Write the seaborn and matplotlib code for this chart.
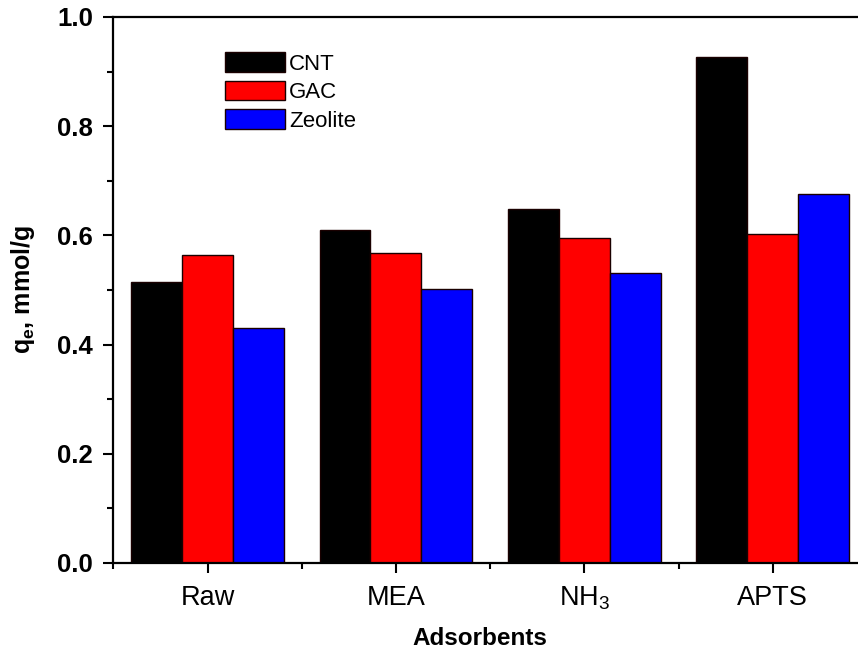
import matplotlib
matplotlib.use("Agg")
import matplotlib.pyplot as plt
from matplotlib.ticker import FixedLocator
import seaborn as sns
import pandas as pd

# Adsorbent treatments and equilibrium uptake per sorbent (mmol/g)
adsorbents = ["Raw", "MEA", "NH$_\\mathregular{3}$", "APTS"]
sorbents = ["CNT", "GAC", "Zeolite"]
cnt = [0.515, 0.610, 0.648, 0.926]
gac = [0.564, 0.568, 0.595, 0.603]
zeolite = [0.430, 0.502, 0.532, 0.675]
colors = ["#000000", "#ff0000", "#0000ff"]

rows = []
for name, vals in zip(sorbents, [cnt, gac, zeolite]):
    for a, v in zip(adsorbents, vals):
        rows.append({"Adsorbents": a, "Sorbent": name, "qe": v})
df = pd.DataFrame(rows)

sns.set_style("ticks")
plt.rcParams["font.family"] = ["Liberation Sans", "DejaVu Sans"]
plt.rcParams["mathtext.fontset"] = "custom"
plt.rcParams["mathtext.rm"] = "Liberation Sans"
plt.rcParams["mathtext.bf"] = "Liberation Sans:bold"
for key in ["text.color", "axes.labelcolor", "xtick.color", "ytick.color",
            "xtick.labelcolor", "ytick.labelcolor", "axes.edgecolor"]:
    plt.rcParams[key] = "black"

fig = plt.figure(figsize=(8.58, 6.54), dpi=100)
ax = fig.add_axes([113.3 / 858, 1 - 563 / 654, 753.6 / 858, 546 / 654])

sns.barplot(data=df, x="Adsorbents", y="qe", hue="Sorbent", order=adsorbents,
            hue_order=sorbents, palette=colors, width=0.81, saturation=1,
            edgecolor="#1a0000", linewidth=1.0, ax=ax, legend=True)

ax.set_xlim(-0.5, 3.5)
ax.set_ylim(0, 1.0)
ax.set_yticks([0.0, 0.2, 0.4, 0.6, 0.8, 1.0])
ax.set_yticklabels(["0.0", "0.2", "0.4", "0.6", "0.8", "1.0"], fontsize=18.5, fontweight="bold")
ax.yaxis.set_minor_locator(FixedLocator([0.1, 0.3, 0.5, 0.7, 0.9]))
ax.xaxis.set_minor_locator(FixedLocator([-0.5, 0.5, 1.5, 2.5]))
ax.set_xticks(range(4))
ax.set_xticklabels(adsorbents, fontsize=19.5)

for sp in ["left", "bottom", "top"]:
    ax.spines[sp].set_linewidth(1.6)
    ax.spines[sp].set_color("black")
ax.spines["right"].set_visible(False)

ax.tick_params(axis="both", which="major", length=7.5, width=1.5, color="black")
ax.tick_params(axis="both", which="minor", length=4, width=1.5, color="black")
ax.tick_params(axis="x", which="major", pad=8)
ax.tick_params(axis="y", which="major", pad=7)

ax.set_xlabel("Adsorbents", fontsize=17.5, fontweight="bold")
ax.xaxis.set_label_coords(0.487, -0.118)
ax.set_ylabel("$\\mathbf{q_e}$, mmol/g", fontsize=18, fontweight="bold")
ax.yaxis.set_label_coords(-0.101, 0.5)

handles, labels = ax.get_legend_handles_labels()
ax.legend(handles, labels, loc="upper left", bbox_to_anchor=(0.148, 0.935),
          frameon=False, fontsize=16, handlelength=2.7, handleheight=0.95,
          labelspacing=0.28, handletextpad=0.2, borderpad=0, borderaxespad=0)

fig.savefig("out.png", dpi=100)
